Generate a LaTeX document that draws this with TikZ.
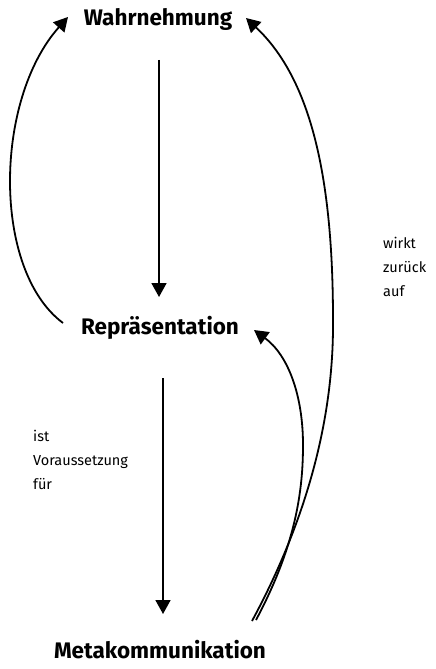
\documentclass[tikz,border=0pt]{standalone}
\usepackage{fontspec}
\setmainfont{Fira Sans}
\usetikzlibrary{arrows.meta}
\begin{document}
\begin{tikzpicture}[x=1pt,y=-1pt,
  title/.style={font=\fontsize{22.5}{26}\selectfont\bfseries, inner sep=0pt, anchor=center},
  note/.style={font=\fontsize{14.5}{24}\selectfont, inner sep=0pt, align=left, anchor=north west},
  arr/.style={line width=1.8pt, -{Triangle[length=14pt,width=15pt]}}]
\useasboundingbox (0,0) rectangle (436,669);
\node[title] (w) at (158,19) {Wahrnehmung};
\node[title] (r) at (160,328) {Repräsentation};
\node[title] (m) at (160,650) {Metakommunikation};
\node[note] (n1) at (383,237) {wirkt\\zurück\\auf};
\node[note] (n2) at (33,430) {ist\\Voraussetzung\\für};
\coordinate (w1) at (159,60);
\coordinate (w2) at (159,297);
\coordinate (r1) at (163,378);
\coordinate (r2) at (163,614);
\coordinate (ls) at (63,323);
\coordinate (le) at (68,17);
\coordinate (bs) at (252,621);
\coordinate (bm) at (333,320);
\coordinate (be) at (246,18);
\coordinate (is) at (256,620);
\coordinate (im) at (303,445);
\coordinate (ie) at (254,330);
\draw[arr] (w1) -- (w2);
\draw[arr] (r1) -- (r2);
\draw[arr] (ls) .. controls (-8,270) and (-6,100) .. (le);
\draw[arr] (bs) .. controls (300,532) and (334,430) .. (bm) .. controls (333,180) and (312,80) .. (be);
\draw[arr] (is) .. controls (296,545) and (303,490) .. (im) .. controls (303,395) and (288,355) .. (ie);
\end{tikzpicture}
\end{document}
